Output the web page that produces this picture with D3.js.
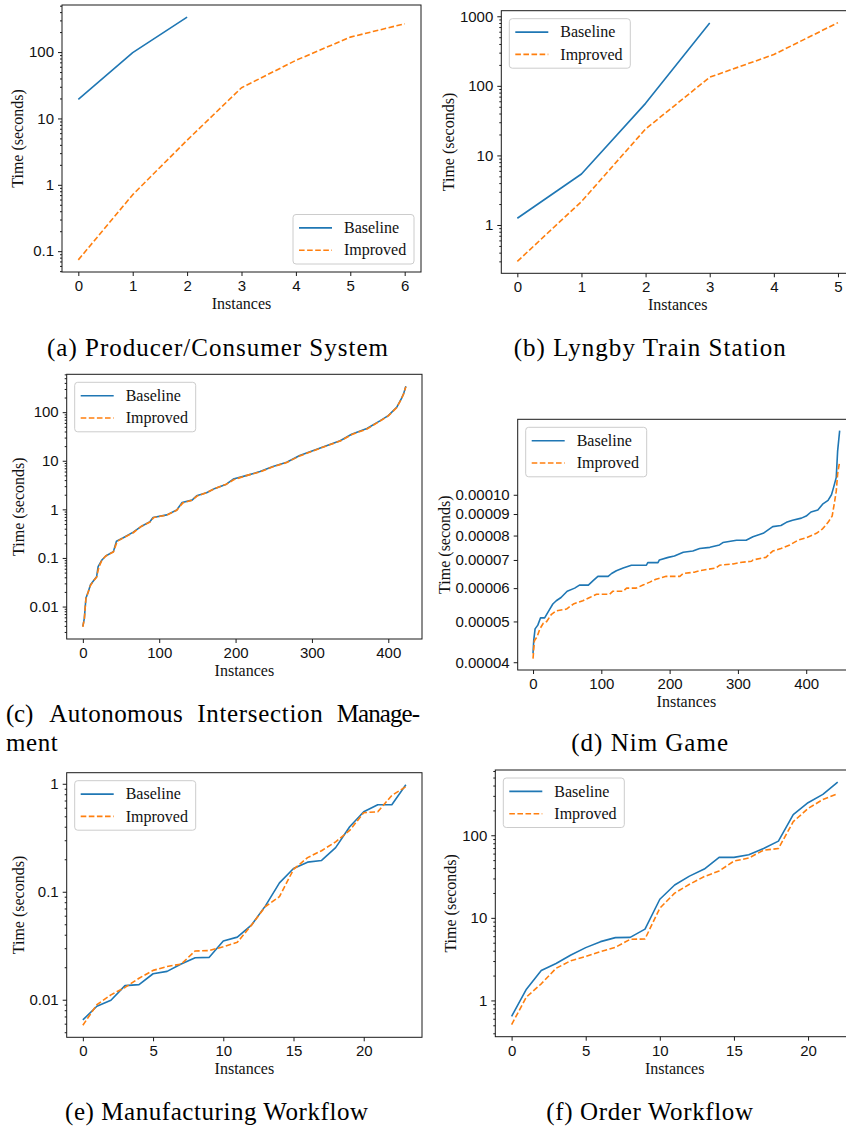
<!DOCTYPE html>
<html>
<head>
<meta charset="utf-8">
<script src="https://cdn.jsdelivr.net/npm/d3@7"></script>
<style>
  html, body { margin: 0; padding: 0; background: #fff; overflow: hidden; }
  svg { display: block; font-family: "Liberation Serif", "DejaVu Serif", serif; }
</style>
</head>
<body>
<svg id="fig" width="846" height="1131"></svg>
<script>
// ---------- (a) Producer/Consumer System ----------
const pcX = [0, 1, 2, 3, 4, 5, 6];
const pcBaseline = [19.4, 98, 336];
const pcImproved = [0.074, 0.71, 4.7, 29, 75, 168, 267];
const pcXTicks = [0, 1, 2, 3, 4, 5, 6];

// ---------- (b) Lyngby Train Station ----------
const lyX = [0, 1, 2, 3, 4, 5];
const lyBaseline = [1.25, 5.4, 56, 800];
const lyImproved = [0.30, 2.17, 24, 133, 282, 810];
const lyXTicks = [0, 1, 2, 3, 4, 5];

// ---------- (c) Autonomous Intersection Management ----------
const aimBaselineX = [0, 2, 4, 7, 10, 14, 18, 20, 25, 30, 40, 44, 53, 66, 77, 88, 92, 110, 123, 130, 143, 149, 162, 173, 188, 197, 215, 232, 249, 267, 284, 302, 319, 337, 352, 372, 389, 400, 411, 417, 420, 423];
const aimBaseline = [0.0039, 0.0058, 0.0148, 0.020, 0.028, 0.034, 0.041, 0.066, 0.091, 0.11, 0.135, 0.22, 0.26, 0.34, 0.45, 0.56, 0.68, 0.77, 0.97, 1.38, 1.55, 1.9, 2.2, 2.7, 3.3, 4.2, 5.0, 6.0, 7.6, 9.3, 12.8, 16.2, 20.4, 25.8, 35, 46, 66, 85, 126, 187, 238, 340];
const aimImprovedX = [0, 2, 4, 7, 10, 14, 18, 21, 25, 30, 40, 45, 53, 66, 77, 88, 93, 110, 123, 131, 143, 150, 162, 173, 188, 198, 215, 232, 249, 267, 284, 302, 319, 337, 353, 372, 389, 400, 411, 417, 420, 423];
const aimImproved = [0.0038, 0.0057, 0.0145, 0.020, 0.027, 0.034, 0.040, 0.065, 0.090, 0.11, 0.133, 0.22, 0.26, 0.33, 0.45, 0.55, 0.68, 0.76, 0.96, 1.36, 1.54, 1.9, 2.2, 2.7, 3.3, 4.1, 5.0, 5.9, 7.5, 9.2, 12.6, 16.0, 20.2, 25.5, 35, 45, 65, 84, 124, 185, 236, 335];
const aimXTicks = [0, 100, 200, 300, 400];

// ---------- (d) Nim Game ----------
const nimBaselineX = [0, 1, 3, 7, 11, 17, 20, 23, 29, 34, 41, 50, 61, 68, 81, 88, 95, 110, 115, 122, 132, 144, 166, 168, 183, 185, 198, 207, 220, 234, 244, 259, 273, 278, 298, 312, 322, 337, 351, 363, 371, 380, 393, 400, 407, 417, 424, 432, 437, 440, 444, 446, 449];
const nimBaseline = [4.2e-5, 4.5e-5, 4.8e-5, 4.9e-5, 5.1e-5, 5.1e-5, 5.2e-5, 5.3e-5, 5.5e-5, 5.6e-5, 5.7e-5, 5.9e-5, 6.0e-5, 6.1e-5, 6.1e-5, 6.25e-5, 6.4e-5, 6.4e-5, 6.5e-5, 6.6e-5, 6.7e-5, 6.8e-5, 6.8e-5, 6.9e-5, 6.9e-5, 7.0e-5, 7.1e-5, 7.15e-5, 7.3e-5, 7.35e-5, 7.45e-5, 7.5e-5, 7.6e-5, 7.7e-5, 7.8e-5, 7.8e-5, 7.95e-5, 8.1e-5, 8.4e-5, 8.45e-5, 8.6e-5, 8.7e-5, 8.8e-5, 8.9e-5, 9.1e-5, 9.2e-5, 9.5e-5, 9.7e-5, 1.0e-4, 1.04e-4, 1.10e-4, 1.27e-4, 1.42e-4];
const nimImprovedX = [0, 2, 6, 10, 15, 20, 27, 34, 49, 59, 73, 83, 93, 112, 117, 132, 137, 151, 161, 171, 180, 195, 215, 220, 237, 244, 268, 273, 293, 302, 320, 322, 341, 351, 363, 376, 388, 400, 415, 424, 432, 438, 441, 444, 446, 449];
const nimImproved = [4.08e-5, 4.5e-5, 4.6e-5, 4.8e-5, 4.95e-5, 5.0e-5, 5.2e-5, 5.3e-5, 5.35e-5, 5.5e-5, 5.6e-5, 5.7e-5, 5.8e-5, 5.8e-5, 5.9e-5, 5.9e-5, 6.0e-5, 6.0e-5, 6.1e-5, 6.2e-5, 6.3e-5, 6.4e-5, 6.4e-5, 6.5e-5, 6.55e-5, 6.6e-5, 6.7e-5, 6.8e-5, 6.85e-5, 6.9e-5, 6.95e-5, 7.0e-5, 7.1e-5, 7.35e-5, 7.45e-5, 7.6e-5, 7.8e-5, 7.9e-5, 8.1e-5, 8.3e-5, 8.6e-5, 8.9e-5, 9.5e-5, 1.02e-4, 1.12e-4, 1.20e-4];
const nimXTicks = [0, 100, 200, 300, 400];
const nimYTicks = [4e-5, 5e-5, 6e-5, 7e-5, 8e-5, 9e-5, 1e-4];

// ---------- (e) Manufacturing Workflow ----------
const mfX = [0, 1, 2, 3, 4, 5, 6, 7, 8, 9, 10, 11, 12, 13, 14, 15, 16, 17, 18, 19, 20, 21, 22, 23];
const mfBaseline = [0.0065, 0.0087, 0.0099, 0.0135, 0.0138, 0.0174, 0.0183, 0.0214, 0.0245, 0.0247, 0.035, 0.038, 0.049, 0.074, 0.121, 0.164, 0.188, 0.195, 0.256, 0.40, 0.55, 0.64, 0.64, 0.98];
const mfImproved = [0.0058, 0.0090, 0.0111, 0.0130, 0.0158, 0.0187, 0.0203, 0.0214, 0.0283, 0.0285, 0.031, 0.034, 0.049, 0.073, 0.090, 0.161, 0.207, 0.24, 0.29, 0.37, 0.54, 0.55, 0.78, 0.94];
const mfXTicks = [0, 5, 10, 15, 20];

// ---------- (f) Order Workflow ----------
const owX = [0, 1, 2, 3, 4, 5, 6, 7, 8, 9, 10, 11, 12, 13, 14, 15, 16, 17, 18, 19, 20, 21, 22];
const owBaseline = [0.64, 1.37, 2.3, 2.8, 3.55, 4.36, 5.15, 5.76, 5.8, 7.3, 16.8, 25, 32, 39, 54, 54, 58, 69, 85, 178, 248, 313, 440];
const owImproved = [0.51, 1.1, 1.59, 2.45, 3.03, 3.4, 3.9, 4.4, 5.5, 5.55, 13.1, 19.9, 25.5, 31.6, 37, 48.7, 53, 66, 69, 146, 211, 271, 318];
const owXTicks = [0, 5, 10, 15, 20];

const seriesNames = ["Baseline", "Improved"];
const seriesColors = ["#1f77b4", "#ff7f0e"];

// ---------- layout of the six axes ----------
const panels = [
  { box: { l: 62, t: 5, r: 421, b: 272 }, legend: "lower right",
    series: [[pcX.slice(0, pcBaseline.length), pcBaseline], [pcX, pcImproved]], xTicks: pcXTicks },
  { box: { l: 501.3, t: 10.7, r: 854, b: 273.3 }, legend: "upper left",
    series: [[lyX.slice(0, lyBaseline.length), lyBaseline], [lyX, lyImproved]], xTicks: lyXTicks },
  { box: { l: 66.7, t: 374.3, r: 422, b: 639 }, legend: "upper left",
    series: [[aimBaselineX, aimBaseline], [aimImprovedX, aimImproved]], xTicks: aimXTicks },
  { box: { l: 517.7, t: 419.3, r: 855, b: 670 }, legend: "upper left",
    series: [[nimBaselineX, nimBaseline], [nimImprovedX, nimImproved]], xTicks: nimXTicks,
    yTicks: nimYTicks, yFormat: v => v.toFixed(5), noMinor: true },
  { box: { l: 66.7, t: 772.7, r: 422, b: 1037.3 }, legend: "upper left",
    series: [[mfX, mfBaseline], [mfX, mfImproved]], xTicks: mfXTicks },
  { box: { l: 495.3, t: 770, r: 854, b: 1036.7 }, legend: "upper left",
    series: [[owX, owBaseline], [owX, owImproved]], xTicks: owXTicks }
];

const captions = [
  { words: [["(a) Producer/Consumer System", 47, 341]], y: 356 },
  { words: [["(b) Lyngby Train Station", 513.7, 272]], y: 356 },
  { words: [["(c)", 6, 27.3], ["Autonomous", 49.3, 133.4], ["Intersection", 197.3, 125.4], ["Manage-", 336.7, 83.3]], y: 722 },
  { words: [["ment", 6, 51.7]], y: 751 },
  { words: [["(d) Nim Game", 571.3, 156.7]], y: 751 },
  { words: [["(e) Manufacturing Workflow", 65, 303]], y: 1120 },
  { words: [["(f) Order Workflow", 546.3, 206.7]], y: 1120 }
];

const svg = d3.select("#fig");
const TICK_FONT = 15, LABEL_FONT = 16, INK = "#111";

function logTicks(domain) {
  const lo = Math.log10(domain[0]), hi = Math.log10(domain[1]);
  const major = [], minor = [];
  for (let e = Math.floor(lo) - 1; e <= Math.ceil(hi) + 1; e++) {
    const v = +("1e" + e);
    if (v >= domain[0] && v <= domain[1]) major.push(v);
    for (let k = 2; k <= 9; k++) {
      const m = +(k + "e" + e);
      if (m >= domain[0] && m <= domain[1]) minor.push(m);
    }
  }
  return { major, minor };
}

const defaultFormat = v => v >= 1 ? d3.format("d")(v) : String(+v.toPrecision(1));

panels.forEach((p, pi) => {
  const { l, t, r, b } = p.box;
  const g = svg.append("g");

  // x: linear with 5% margins
  const allX = p.series.flatMap(s => s[0]);
  const [x0, x1] = d3.extent(allX);
  const xm = (x1 - x0) * 0.05;
  const x = d3.scaleLinear().domain([x0 - xm, x1 + xm]).range([l, r]);

  // y: log with 5% margins in log space
  const allY = p.series.flatMap(s => s[1]);
  const [ly0, ly1] = d3.extent(allY).map(Math.log10);
  const ym = (ly1 - ly0) * 0.05;
  const y = d3.scaleLog().domain([10 ** (ly0 - ym), 10 ** (ly1 + ym)]).range([b, t]);

  const clipId = "clip" + pi;
  g.append("clipPath").attr("id", clipId)
    .append("rect").attr("x", l).attr("y", t).attr("width", r - l).attr("height", b - t);

  // data lines
  const line = d3.line().x(d => x(d[0])).y(d => y(d[1]));
  p.series.forEach((s, si) => {
    const pts = s[0].map((xv, i) => [xv, s[1][i]]);
    g.append("path")
      .attr("d", line(pts))
      .attr("fill", "none")
      .attr("stroke", seriesColors[si])
      .attr("stroke-width", 1.6)
      .attr("stroke-linejoin", "round")
      .attr("stroke-dasharray", si === 1 ? "5.6,2.5" : null)
      .attr("clip-path", `url(#${clipId})`);
  });

  // frame
  g.append("rect").attr("x", l).attr("y", t).attr("width", r - l).attr("height", b - t)
    .attr("fill", "none").attr("stroke", "#1a1a1a").attr("stroke-width", 1);

  // x axis
  const xAxis = d3.axisBottom(x).tickValues(p.xTicks).tickSize(4).tickPadding(5).tickFormat(d3.format("d"));
  const xg = g.append("g").attr("transform", `translate(0,${b})`).call(xAxis);
  xg.select(".domain").remove();
  xg.selectAll(".tick line").attr("stroke", "#1a1a1a");
  xg.selectAll(".tick text").attr("font-family", null).attr("font-size", TICK_FONT).attr("fill", INK)
    .attr("dy", null).attr("y", 19);

  // y axis
  let yMajor, yMinor = [];
  if (p.yTicks) { yMajor = p.yTicks; }
  else { const lt = logTicks(y.domain()); yMajor = lt.major; yMinor = lt.minor; }
  const yAxis = d3.axisLeft(y).tickValues(yMajor).tickSize(4).tickPadding(4).tickFormat(p.yFormat || defaultFormat);
  const yg = g.append("g").attr("transform", `translate(${l},0)`).call(yAxis);
  yg.select(".domain").remove();
  yg.selectAll(".tick line").attr("stroke", "#1a1a1a");
  yg.selectAll(".tick text").attr("font-family", null).attr("font-size", TICK_FONT).attr("fill", INK);
  if (!p.noMinor && yMinor.length) {
    const ymg = g.append("g").attr("transform", `translate(${l},0)`)
      .call(d3.axisLeft(y).tickValues(yMinor).tickSize(2).tickFormat(""));
    ymg.select(".domain").remove();
    ymg.selectAll(".tick line").attr("stroke", "#1a1a1a");
  }

  // axis titles
  let maxW = 0;
  yg.selectAll(".tick text").each(function () { maxW = Math.max(maxW, this.getComputedTextLength()); });
  g.append("text")
    .attr("transform", `translate(${l - maxW - 19},${(t + b) / 2}) rotate(-90)`)
    .attr("text-anchor", "middle").attr("dy", "0.32em")
    .attr("font-size", LABEL_FONT).attr("fill", INK)
    .text("Time (seconds)");
  g.append("text")
    .attr("x", (l + r) / 2).attr("y", b + 37)
    .attr("text-anchor", "middle")
    .attr("font-size", LABEL_FONT).attr("fill", INK)
    .text("Instances");

  // legend
  const LW = 121, LH = 49.5;
  const lx = p.legend === "lower right" ? r - 7 - LW : l + 8;
  const lyTop = p.legend === "lower right" ? b - 8 - LH : t + 8;
  const lg = g.append("g").attr("transform", `translate(${lx},${lyTop})`);
  lg.append("rect").attr("width", LW).attr("height", LH).attr("rx", 3).attr("ry", 3)
    .attr("fill", "#fff").attr("fill-opacity", 0.8)
    .attr("stroke", "#cccccc").attr("stroke-width", 1);
  seriesNames.forEach((name, si) => {
    const cy = si === 0 ? 13.4 : 35.7;
    lg.append("line").attr("x1", 6).attr("x2", 39).attr("y1", cy).attr("y2", cy)
      .attr("stroke", seriesColors[si]).attr("stroke-width", 1.6)
      .attr("stroke-dasharray", si === 1 ? "5.6,2.5" : null);
    lg.append("text").attr("x", 51).attr("y", cy).attr("dy", "0.33em")
      .attr("font-size", LABEL_FONT).attr("fill", INK).text(name);
  });
});

// sub-figure captions
captions.forEach(c => {
  c.words.forEach(([txt, x0, w]) => {
    svg.append("text")
      .attr("x", x0).attr("y", c.y)
      .attr("font-size", 25).attr("fill", "#000")
      .attr("textLength", w).attr("lengthAdjust", "spacing")
      .text(txt);
  });
});
</script>
</body>
</html>
